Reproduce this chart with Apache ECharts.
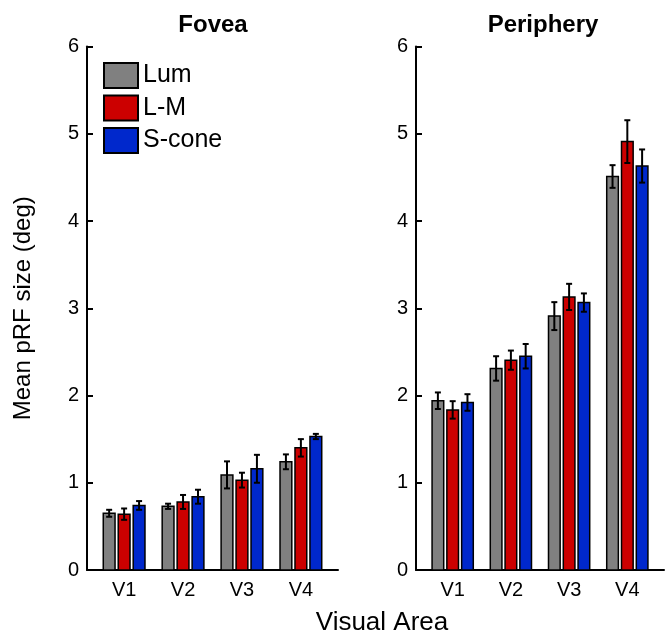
<!DOCTYPE html>
<html><head><meta charset="utf-8">
<script src="https://cdn.jsdelivr.net/npm/echarts@6/dist/echarts.min.js"></script>
<style>html,body{margin:0;padding:0;background:#fff}#c{width:668px;height:630px}</style>
</head><body><div id="c"></div>
<script>
const categories = ['V1', 'V2', 'V3', 'V4'];
const seriesNames = ['Lum', 'L-M', 'S-cone'];
const yTicks = [0, 1, 2, 3, 4, 5, 6];
const panelTitles = ['Fovea', 'Periphery'];

const foveaLum = [0.65, 0.73, 1.09, 1.24];
const foveaLumErr = [0.04, 0.03, 0.155, 0.085];
const foveaLM = [0.64, 0.78, 1.03, 1.40];
const foveaLMErr = [0.065, 0.08, 0.085, 0.10];
const foveaS = [0.74, 0.84, 1.16, 1.53];
const foveaSErr = [0.05, 0.08, 0.16, 0.03];

const periLum = [1.94, 2.31, 2.91, 4.51];
const periLumErr = [0.095, 0.14, 0.16, 0.13];
const periLM = [1.835, 2.405, 3.13, 4.91];
const periLMErr = [0.10, 0.11, 0.15, 0.245];
const periS = [1.92, 2.45, 3.065, 4.63];
const periSErr = [0.095, 0.14, 0.105, 0.19];

const colors = ['#808080', '#cc0000', '#0028cc'];
const FONT = 'Liberation Sans, Arial, Helvetica, sans-serif';

function makeSeries(idx, vals, errs, panel) {
  return {
    type: 'custom',
    name: seriesNames[idx],
    xAxisIndex: panel,
    yAxisIndex: panel,
    itemStyle: { color: colors[idx], borderColor: '#000', borderWidth: 1.5 },
    data: vals.map((v, i) => [i + 1, v, errs[i]]),
    renderItem: function (params, api) {
      const x = api.value(0), v = api.value(1), e = api.value(2);
      const unit = api.size([1, 0])[0];
      const off = (idx - 1) * 0.254 * unit;
      const w = 0.2 * unit;
      const base = api.coord([x, 0]);
      const top = api.coord([x, v]);
      const hi = api.coord([x, v + e]);
      const lo = api.coord([x, v - e]);
      const cx = base[0] + off;
      const ls = { stroke: '#000', lineWidth: 2 };
      return {
        type: 'group',
        children: [
          { type: 'rect', shape: { x: cx - w / 2, y: top[1], width: w, height: base[1] - top[1] },
            style: { fill: colors[idx], stroke: '#000', lineWidth: 1.5 } },
          { type: 'line', shape: { x1: cx, y1: hi[1], x2: cx, y2: lo[1] }, style: ls },
          { type: 'line', shape: { x1: cx - 3, y1: hi[1], x2: cx + 3, y2: hi[1] }, style: ls },
          { type: 'line', shape: { x1: cx - 3, y1: lo[1], x2: cx + 3, y2: lo[1] }, style: ls }
        ]
      };
    }
  };
}

function xAxisFor(gi) {
  return {
    type: 'value', gridIndex: gi, min: 0.37, max: 4.63,
    axisLine: { show: true, onZero: false, lineStyle: { color: '#000', width: 2 } },
    axisTick: { show: false },
    splitLine: { show: false },
    axisLabel: {
      customValues: categories.map((c, i) => i + 1),
      formatter: v => categories[Math.round(v) - 1] || '',
      color: '#000', fontSize: 20, fontFamily: FONT, margin: 10
    }
  };
}
function yAxisFor(gi) {
  const ax = {
    type: 'value', gridIndex: gi, min: yTicks[0], max: yTicks[yTicks.length - 1], interval: 1,
    axisLine: { show: true, onZero: false, lineStyle: { color: '#000', width: 2 } },
    axisTick: { show: true, inside: true, length: 6, lineStyle: { color: '#000', width: 2 } },
    splitLine: { show: false },
    axisLabel: { color: '#000', fontSize: 20, fontFamily: FONT, margin: 8 }
  };
  if (gi === 0) {
    ax.name = 'Mean pRF size (deg)';
    ax.nameLocation = 'middle';
    ax.nameGap = 52;
    ax.nameTextStyle = { color: '#000', fontSize: 24, fontFamily: FONT };
  }
  return ax;
}

const chart = echarts.init(document.getElementById('c'), null, { renderer: 'canvas' });
chart.setOption({
  backgroundColor: '#fff',
  animation: false,
  grid: [
    { left: 87, top: 46.5, width: 251, height: 523.5 },
    { left: 416, top: 46.5, width: 248, height: 523.5 }
  ],
  xAxis: [xAxisFor(0), xAxisFor(1)],
  yAxis: [yAxisFor(0), yAxisFor(1)],
  legend: {
    data: seriesNames,
    orient: 'vertical', left: 103, top: 62,
    itemWidth: 34, itemHeight: 25, itemGap: 5.5, padding: 0,
    icon: 'rect',
    textStyle: { color: '#000', fontSize: 25, fontFamily: FONT }
  },
  graphic: [
    { type: 'text', x: 213, y: 13, style: { text: panelTitles[0], font: 'bold 24px ' + FONT, fill: '#000', textAlign: 'center' } },
    { type: 'text', x: 543, y: 13, style: { text: panelTitles[1], font: 'bold 24px ' + FONT, fill: '#000', textAlign: 'center' } },
    { type: 'text', x: 382, y: 610, style: { text: 'Visual Area', font: '26px ' + FONT, fill: '#000', textAlign: 'center' } }
  ],
  series: [
    makeSeries(0, foveaLum, foveaLumErr, 0),
    makeSeries(1, foveaLM, foveaLMErr, 0),
    makeSeries(2, foveaS, foveaSErr, 0),
    makeSeries(0, periLum, periLumErr, 1),
    makeSeries(1, periLM, periLMErr, 1),
    makeSeries(2, periS, periSErr, 1)
  ]
});
</script></body></html>
